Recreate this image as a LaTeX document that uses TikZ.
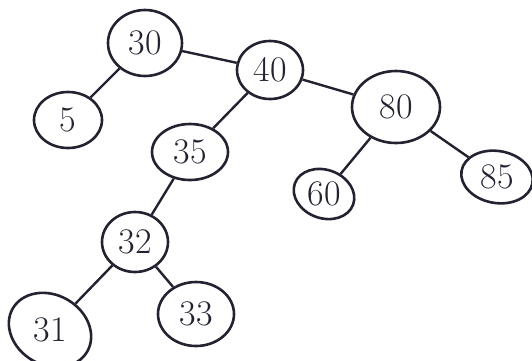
\documentclass[tikz,border=0pt]{standalone}
\usetikzlibrary{shapes.geometric}
\definecolor{ink}{HTML}{222230}
\tikzset{
  tnode/.style n args={2}{ellipse, draw=ink, line width=2.6pt, minimum width=#1pt, minimum height=#2pt, inner sep=0pt, font=\fontsize{36}{36}\selectfont, text=ink},
  edge/.style={draw=ink, line width=2.4pt}
}
\begin{document}
\begin{tikzpicture}[x=1pt,y=-1pt]
\useasboundingbox (0,0) rectangle (532,360);
\node[tnode={74}{66}] (n30) at (145,43) {30};
\node[tnode={68}{56}] (n5) at (68,120) {5};
\node[tnode={66}{58}] (n40) at (270,70) {40};
\node[tnode={88}{72}] (n80) at (396,107) {80};
\node[tnode={76}{56}] (n35) at (190,152) {35};
\node[tnode={62}{48}, rotate=-20] (n60) at (324,194) {\rotatebox{20}{60}};
\node[tnode={72}{52}, rotate=-10] (n85) at (497,177) {\rotatebox{10}{85}};
\node[tnode={66}{60}] (n32) at (135,242) {32};
\node[tnode={86}{70}, rotate=-30] (n31) at (50,330) {\rotatebox{30}{31}};
\node[tnode={76}{64}] (n33) at (196,314) {33};
\draw[edge] (n30) -- (n5);
\draw[edge] (n30) -- (n40);
\draw[edge] (n40) -- (n35);
\draw[edge] (n40) -- (n80);
\draw[edge] (n80) -- (n60);
\draw[edge] (n80) -- (n85);
\draw[edge] (n35) -- (n32);
\draw[edge] (n32) -- (n31);
\draw[edge] (n32) -- (n33);
\end{tikzpicture}
\end{document}
